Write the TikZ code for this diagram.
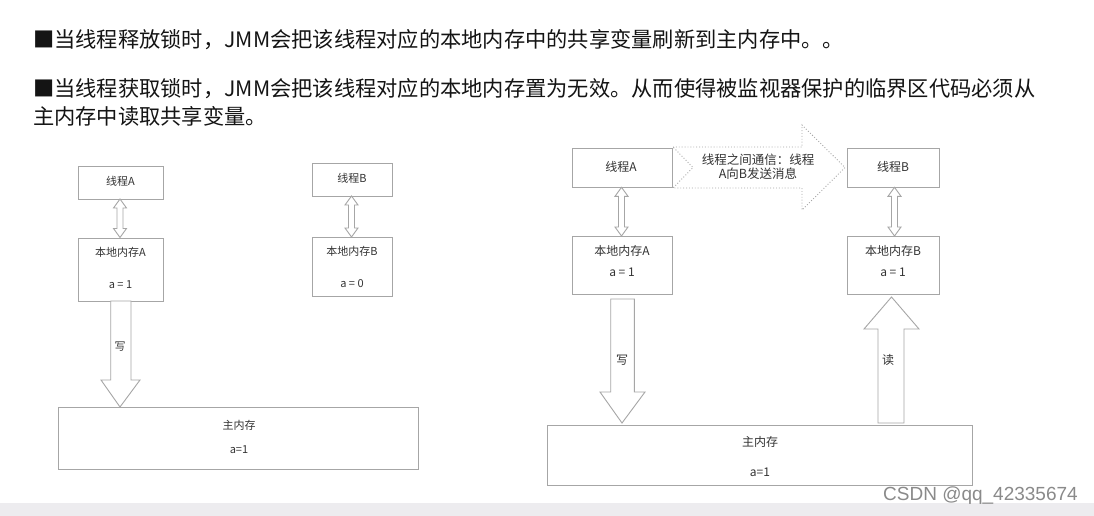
\documentclass[tikz,border=0pt]{standalone}
\usepackage{fontspec}
\setmainfont{Noto Sans CJK SC}
\newfontfamily\wmfont{Liberation Sans}
\definecolor{boxline}{HTML}{A6A6A6}
\definecolor{boxtext}{HTML}{333333}
\definecolor{striptone}{HTML}{EDECEF}
\definecolor{wmgray}{HTML}{8A8A8A}
\newcommand{\vdblarr}[3]{%
  \draw[blockline] (#1,#2) -- (#1+6.5,#2+9) -- (#1+3,#2+9) -- (#1+3,#3-9) -- (#1+6.5,#3-9) -- (#1,#3)
    -- (#1-6.5,#3-9) -- (#1-3,#3-9) -- (#1-3,#2+9) -- (#1-6.5,#2+9) -- cycle;}
\tikzset{
  box/.style={draw=boxline, line width=0.9pt, fill=white, inner sep=0pt, text=boxtext, font=\fontsize{11}{13}\selectfont},
  blockline/.style={draw=boxline, line width=0.9pt, fill=white},
  toptext/.style={anchor=west, inner sep=0pt, text=black!92, font=\fontsize{21.25}{25}\selectfont},
  lbl/.style={inner sep=0pt, text=boxtext, font=\fontsize{11}{13}\selectfont},
}
\begin{document}
\begin{tikzpicture}[x=1pt,y=-1pt]
\useasboundingbox (0,0) rectangle (1094,516);
\fill[white] (0,0) rectangle (1094,516);
\fill[striptone] (0,503) rectangle (1094,516);

% top text
\node[toptext] (t1) at (33,40) {■当线程释放锁时，JMM会把该线程对应的本地内存中的共享变量刷新到主内存中。。};
\node[toptext] (t2) at (33,89) {■当线程获取锁时，JMM会把该线程对应的本地内存置为无效。从而使得被监视器保护的临界区代码必须从};
\node[toptext] (t3) at (33,116) {主内存中读取共享变量。};

% ---------- left diagram ----------
\node[box, minimum width=85pt, minimum height=33pt] (thA1) at (120.5,182.5) {};
\node[lbl] (thA1t) at (120.5,181) {线程A};
\node[box, minimum width=80pt, minimum height=33pt] (thB1) at (352,179.5) {};
\node[lbl] (thB1t) at (352,178) {线程B};
\node[box, minimum width=85pt, minimum height=63pt] (lmA1) at (120.5,269.5) {};
\node[lbl] (lmA1t) at (120.5,252) {本地内存A};
\node[lbl] (lmA1v) at (120.5,285) {a = 1};
\node[box, minimum width=80pt, minimum height=59pt] (lmB1) at (352,266.5) {};
\node[lbl] (lmB1t) at (352,251) {本地内存B};
\node[lbl] (lmB1v) at (352,284) {a = 0};
\vdblarr{120}{199}{237.5}
\vdblarr{351.5}{196}{237}
% write arrow
\draw[blockline] (110.7,301) -- (131,301) -- (131,380) -- (140,380) -- (120,407) -- (101,380) -- (110.7,380) -- cycle;
\node[lbl] (w1) at (120,347) {写};
\node[box, minimum width=360pt, minimum height=62pt] (mm1) at (238,438) {};
\node[lbl] (mm1t) at (239,425) {主内存};
\node[lbl] (mm1v) at (239,450) {a=1};

% ---------- right diagram ----------
\draw[boxline, line width=0.9pt, dotted] (673,147) -- (802,147) -- (802,125) -- (845,167.5) -- (802,210) -- (802,188) -- (673,188) -- (693,167.5) -- cycle;
\node[lbl, font=\fontsize{12.5}{15}\selectfont, align=center] (msg) at (758,166.5) {线程之间通信：线程\\[-1pt]A向B发送消息};
\node[box, minimum width=100pt, minimum height=39pt] (thA2) at (622,167.5) {};
\node[lbl, font=\fontsize{12}{14}\selectfont] (thA2t) at (621,167) {线程A};
\node[box, minimum width=92pt, minimum height=39pt] (thB2) at (893,167.5) {};
\node[lbl, font=\fontsize{12}{14}\selectfont] (thB2t) at (893,167) {线程B};
\node[box, minimum width=100pt, minimum height=58pt] (lmA2) at (622,265) {};
\node[lbl, font=\fontsize{12}{14}\selectfont] (lmA2t) at (622,250.5) {本地内存A};
\node[lbl, font=\fontsize{12}{14}\selectfont] (lmA2v) at (622,272.5) {a = 1};
\node[box, minimum width=92pt, minimum height=58pt] (lmB2) at (893,265) {};
\node[lbl, font=\fontsize{12}{14}\selectfont] (lmB2t) at (893,250.5) {本地内存B};
\node[lbl, font=\fontsize{12}{14}\selectfont] (lmB2v) at (893,272.5) {a = 1};
\vdblarr{621.5}{187.3}{236}
\vdblarr{894.5}{187.3}{236}
% write arrow
\draw[blockline] (610.7,299) -- (634.3,299) -- (634.3,392) -- (645,392) -- (622,423) -- (600,392) -- (610.7,392) -- cycle;
\node[lbl, font=\fontsize{12}{14}\selectfont] (w2) at (622,360) {写};
% read arrow
\draw[blockline] (878,423) -- (904,423) -- (904,329) -- (919,329) -- (891.5,297) -- (864,329) -- (878,329) -- cycle;
\node[lbl, font=\fontsize{12}{14}\selectfont] (r2) at (888,360) {读};
\node[box, minimum width=425pt, minimum height=60pt] (mm2) at (759.5,455) {};
\node[lbl, font=\fontsize{12}{14}\selectfont] (mm2t) at (760,441.5) {主内存};
\node[lbl, font=\fontsize{12}{14}\selectfont] (mm2v) at (760,472) {a=1};

% watermark
\node[inner sep=0pt, anchor=east, text=wmgray, font=\wmfont\fontsize{19}{21}\selectfont] (wm) at (1078,496) {CSDN @qq\_42335674};
\end{tikzpicture}
\end{document}
